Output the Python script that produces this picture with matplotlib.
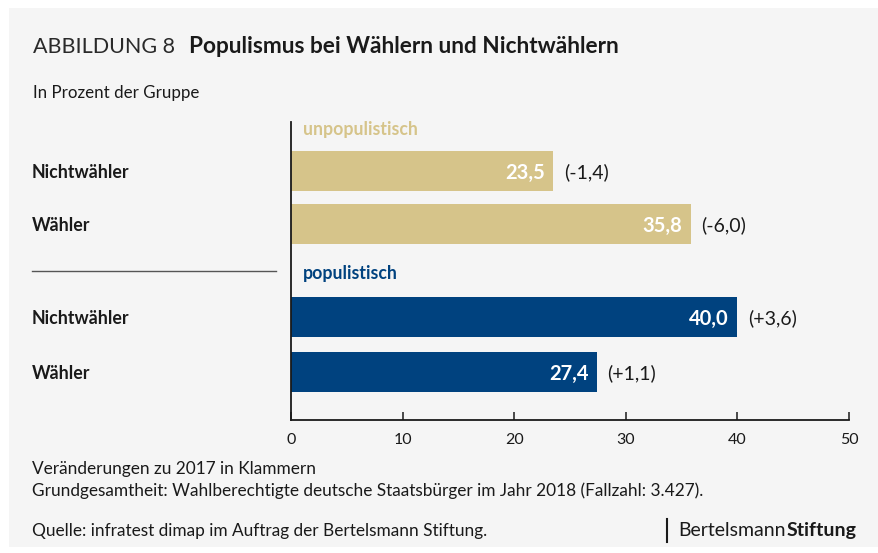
import matplotlib
matplotlib.use("Agg")
import matplotlib.pyplot as plt
from matplotlib.patches import Rectangle
from matplotlib.lines import Line2D

plt.rcParams['font.family'] = ['Lato', 'DejaVu Sans']

# ---- data ----
groups = ["unpopulistisch", "populistisch"]
categories = ["Nichtwähler", "Wähler"]
unpop_values = [23.5, 35.8]
unpop_changes = ["(-1,4)", "(-6,0)"]
pop_values = [40.0, 27.4]
pop_changes = ["(+3,6)", "(+1,1)"]
xticks = [0, 10, 20, 30, 40, 50]

BEIGE = "#d6c48a"
NAVY = "#00427f"
BG = "#f5f5f5"
DARK = "#1a1a1a"

W, H = 879, 553
fig = plt.figure(figsize=(W / 100, H / 100), dpi=100)
fig.patch.set_facecolor("white")

def fx(x):
    return x / W

def fy(y):
    return 1 - y / H

# background panel
fig.patches.append(Rectangle((fx(9), fy(547)), fx(879) - fx(9), fy(8) - fy(547),
                             transform=fig.transFigure, facecolor=BG, edgecolor="none", zorder=-10))

# axes (pixel layout)
ax_l, ax_r, ax_t, ax_b = 291, 849, 122, 420
ax = fig.add_axes([fx(ax_l), fy(ax_b), fx(ax_r) - fx(ax_l), fy(ax_t) - fy(ax_b)])
ax.set_facecolor("none")
ax.set_xlim(0, 50)
ax.set_ylim(ax_b - ax_t, 0)  # pixel-like y units from top of axes

# bar row positions (layout, px from axes top)
unpop_pos = [48.7, 102.0]
pop_pos = [194.7, 249.7]
bar_h = 40

for vals, chg, pos, col in [(unpop_values, unpop_changes, unpop_pos, BEIGE),
                            (pop_values, pop_changes, pop_pos, NAVY)]:
    ax.barh(pos, vals, height=bar_h, color=col, edgecolor="none", zorder=2)
    for v, c, p in zip(vals, chg, pos):
        ax.text(v - 0.75, p, f"{v:.1f}".replace(".", ","), ha="right", va="center_baseline",
                color="white", fontsize=14.5, fontweight="bold", zorder=3)
        ax.text(v + 0.95, p, c, ha="left", va="center_baseline",
                color=DARK, fontsize=14, zorder=3)

# group headers
ax.text(1.1, 128 - ax_t, groups[0], ha="left", va="center_baseline", color=BEIGE,
        fontsize=12.7, fontweight="bold")
ax.text(1.1, 272 - ax_t, groups[1], ha="left", va="center_baseline", color=NAVY,
        fontsize=12.7, fontweight="bold")

# spines / ticks
for s in ["top", "right"]:
    ax.spines[s].set_visible(False)
ax.spines["left"].set_color(DARK)
ax.spines["bottom"].set_color(DARK)
ax.spines["left"].set_linewidth(1.3)
ax.spines["bottom"].set_linewidth(1.3)
ax.set_xticks(xticks)
ax.set_xticklabels([str(t) for t in xticks])
ax.tick_params(axis="x", direction="in", length=6, width=1.1, color=DARK,
               labelsize=11.5, labelcolor=DARK, pad=9)
ax.set_yticks([])

# category labels
for pos in (unpop_pos, pop_pos):
    for cat, p in zip(categories, pos):
        fig.text(fx(32), fy(ax_t + p), cat, ha="left", va="center_baseline",
                 fontsize=12.8, fontweight="bold", color=DARK)

# separator line
fig.add_artist(Line2D([fx(32), fx(276)], [fy(271), fy(271)], transform=fig.transFigure,
                      color="#555555", linewidth=1))

# title
fig.text(fx(33), fy(53), "ABBILDUNG 8", ha="left", va="baseline",
         fontsize=15.5, fontweight="normal", color="#2a2a2a")
fig.text(fx(189), fy(53), "Populismus bei Wählern und Nichtwählern", ha="left", va="baseline",
         fontsize=16.3, fontweight="bold", color=DARK)
fig.text(fx(33), fy(98), "In Prozent der Gruppe", ha="left", va="baseline",
         fontsize=12.2, color=DARK)

# footer
fig.text(fx(32), fy(474), "Veränderungen zu 2017 in Klammern", ha="left", va="baseline",
         fontsize=12.4, color=DARK)
fig.text(fx(32), fy(496), "Grundgesamtheit: Wahlberechtigte deutsche Staatsbürger im Jahr 2018 (Fallzahl: 3.427).",
         ha="left", va="baseline", fontsize=12.4, color=DARK)
fig.text(fx(32), fy(536), "Quelle: infratest dimap im Auftrag der Bertelsmann Stiftung.",
         ha="left", va="baseline", fontsize=12.4, color=DARK)

# logo
fig.add_artist(Line2D([fx(667), fx(667)], [fy(519), fy(542)], transform=fig.transFigure,
                      color=DARK, linewidth=1.5))
b1 = fig.text(fx(678), fy(536), "Bertelsmann", ha="left", va="baseline",
              fontsize=14, color=DARK)
fig.canvas.draw()
bb = b1.get_window_extent()
fig.text(bb.x1 / W + 0.001, fy(536), "Stiftung", ha="left", va="baseline",
         fontsize=14, fontweight="bold", color=DARK)

fig.savefig("out.png", dpi=100, facecolor=fig.get_facecolor())
